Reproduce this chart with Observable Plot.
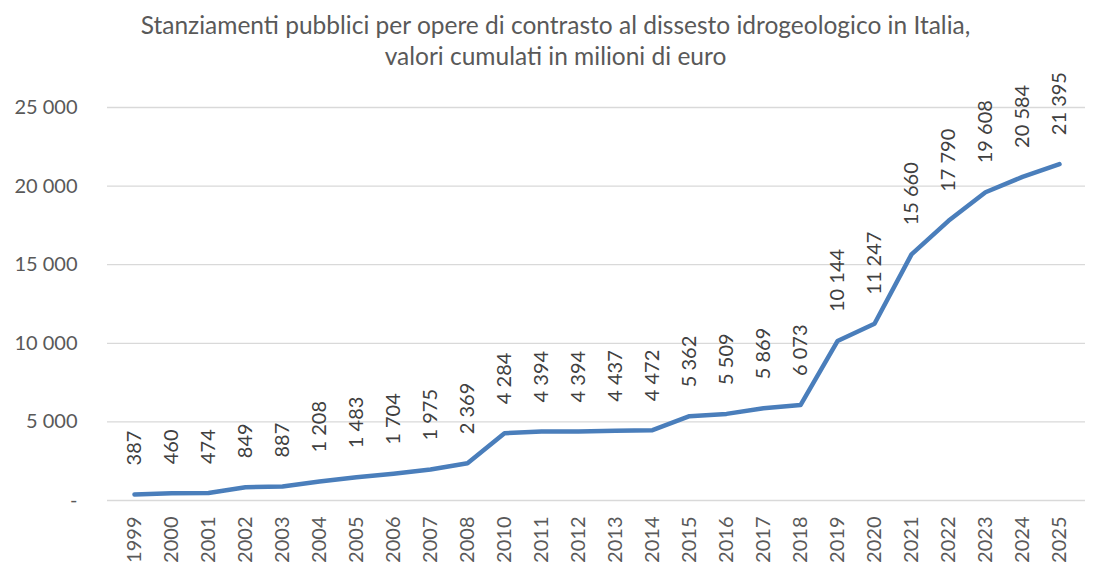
<!DOCTYPE html>
<html><head><meta charset="utf-8">
<script src="https://cdn.jsdelivr.net/npm/d3@7"></script>
<script src="https://cdn.jsdelivr.net/npm/@observablehq/plot@0.6"></script>
<style>
body{margin:0;background:#fff;font-family:Lato,"Open Sans",sans-serif;position:relative;}
#title{position:absolute;top:0;left:0;width:1093px;box-sizing:border-box;padding-top:9px;padding-left:18px;text-align:center;font-size:24.5px;line-height:31px;color:#595959;white-space:nowrap;z-index:2;}
</style></head><body>
<div id="title">Stanziamenti pubblici per opere di contrasto al dissesto idrogeologico in Italia,<br>valori cumulati in milioni di euro</div>
<div id="chart"></div>
<script>
const years = ["1999","2000","2001","2002","2003","2004","2005","2006","2007","2008","2010","2011","2012","2013","2014","2015","2016","2017","2018","2019","2020","2021","2022","2023","2024","2025"];
const values = [387,460,474,849,887,1208,1483,1704,1975,2369,4284,4394,4394,4437,4472,5362,5509,5869,6073,10144,11247,15660,17790,19608,20584,21395];
const yTicks = [0,5000,10000,15000,20000,25000];
const data = years.map((y,i)=>({year:y,value:values[i]}));
const loc = d3.formatLocale({decimal:",",thousands:"\u00a0",grouping:[3],currency:["",""]});
const fmt = v => v===0 ? "-" : loc.format(",d")(v);
const fmtLab = v => loc.format(",d")(v);
const chart = Plot.plot({
  width:1093, height:565,
  marginLeft:107, marginRight:8, marginTop:107, marginBottom:65,
  style:{fontFamily:"Lato, 'Open Sans', sans-serif", fontSize:"20px", color:"#595959", background:"transparent"},
  x:{type:"point", domain:years, padding:0.45, label:null},
  y:{domain:[0,25000], label:null},
  marks:[
    Plot.gridY(yTicks,{stroke:"#d9d9d9", strokeOpacity:1, strokeWidth:1.3}),
    Plot.axisY(yTicks,{tickSize:0, tickPadding:30, tickFormat:fmt, fontSize:20, fill:"#595959"}),
    Plot.axisX({tickSize:0, tickPadding:16, tickRotate:-90, fontSize:20, fill:"#595959"}),
    Plot.line(data,{x:"year", y:"value", stroke:"#4a7ebb", strokeWidth:4.5}),
    Plot.text(data,{x:"year", y:"value", text:d=>fmtLab(d.value), rotate:-90, textAnchor:"start", dy:-29, fontSize:20, fill:"#404040"})
  ]
});
document.getElementById("chart").appendChild(chart);
</script></body></html>
